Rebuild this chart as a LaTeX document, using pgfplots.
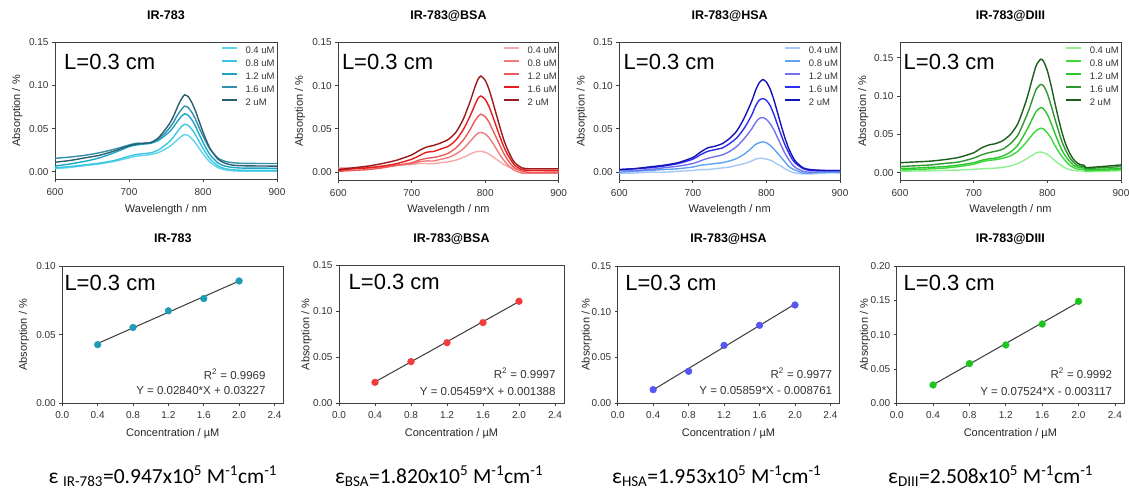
\documentclass[border=0pt]{standalone}
\usepackage{fontspec}
\setmainfont{Liberation Sans}
\newfontfamily\carlito{Carlito}
\usepackage{pgfplots}
\usepackage{pgfplotstable}
\pgfplotsset{compat=1.18}

\definecolor{ca}{HTML}{5ED3EA}
\definecolor{cb}{HTML}{3CC6E2}
\definecolor{cc}{HTML}{1AA7C6}
\definecolor{cd}{HTML}{3390A8}
\definecolor{ce}{HTML}{2B5F70}
\definecolor{ba}{HTML}{F7A8A8}
\definecolor{bb}{HTML}{F27A7A}
\definecolor{bc}{HTML}{EE5A5A}
\definecolor{bd}{HTML}{E81C1C}
\definecolor{be}{HTML}{9B1B1B}
\definecolor{ha}{HTML}{A3C8F7}
\definecolor{hb}{HTML}{5FA2F2}
\definecolor{hc}{HTML}{7373F0}
\definecolor{hd}{HTML}{2C2CF2}
\definecolor{he}{HTML}{1515B5}
\definecolor{da}{HTML}{8FF08F}
\definecolor{db}{HTML}{3CD93C}
\definecolor{dc}{HTML}{2DC42D}
\definecolor{dd}{HTML}{2E962E}
\definecolor{de}{HTML}{1D5E1D}
\definecolor{ma}{HTML}{1E9BB5}
\definecolor{mb}{HTML}{F23B3B}
\definecolor{mc}{HTML}{5656F0}
\definecolor{md}{HTML}{1CC51C}

\pgfplotstableread{
wl a b c d e
600 .0035 .0045 .0065 .0155 .011
620 .005 .006 .009 .017 .013
640 .007 .008 .012 .019 .016
660 .009 .010 .016 .022 .019
680 .012 .013 .022 .026 .024
700 .016 .018 .029 .031 .030
710 .018 .020 .031 .033 .032
720 .019 .021 .032 .033 .033
730 .020 .022 .033 .034 .034
740 .0223 .0253 .0364 .038 .0395
750 .0267 .0316 .0429 .046 .050
755 .0292 .0352 .0466 .051 .056
760 .0327 .0402 .0517 .057 .064
765 .0368 .0461 .0578 .065 .074
770 .0405 .0514 .0633 .071 .083
775 .043 .055 .067 .076 .089
780 .0419 .0537 .0654 .0743 .087
785 .0383 .0491 .0601 .0687 .080
790 .0332 .0427 .0525 .0607 .070
795 .0269 .0347 .0431 .0507 .058
800 .0209 .0272 .0342 .0414 .046
805 .0154 .0202 .026 .0328 .0354
810 .0107 .0143 .0191 .0255 .0263
820 .0048 .0069 .0103 .016 .0148
830 .0022 .0036 .0065 .012 .0098
840 .0011 .0023 .005 .0105 .0077
850 .0007 .0018 .0043 .0098 .007
870 .0006 .0016 .0042 .0096 .0067
900 .0005 .0015 .004 .0095 .0065
}\irtab

\pgfplotstableread{
wl a b c d e
600 .005 .004 .001 .002 .003
620 .005 .004 .002 .004 .005
640 .006 .005 .003 .005 .007
660 .007 .006 .005 .007 .010
680 .008 .008 .008 .010 .014
700 .009 .010 .011 .015 .020
710 .010 .012 .014 .019 .025
720 .010 .013 .016 .023 .029
730 .010 .013 .017 .024 .031
740 .011 .015 .019 .027 .034
750 .012 .017 .022 .030 .038
760 .014 .021 .028 .037 .046
770 .017 .027 .037 .049 .061
780 .021 .036 .050 .066 .083
785 .023 .041 .058 .076 .096
790 .024 .045 .064 .085 .107
794 .024 .046 .067 .088 .111
800 .023 .044 .064 .084 .106
805 .021 .040 .058 .076 .096
810 .018 .034 .049 .065 .082
815 .015 .027 .040 .053 .067
820 .012 .020 .031 .041 .052
825 .009 .014 .022 .030 .038
830 .007 .009 .015 .021 .027
835 .005 .005 .009 .014 .018
840 .004 .002 .005 .008 .011
850 .003 -.001 .001 .003 .005
860 .003 -.001 .000 .002 .004
880 .003 -.001 .000 .002 .004
900 .003 -.001 .000 .002 .004
}\bsatab

\pgfplotstableread{
wl a b c d e
600 -.001 .000 .002 .003 .003
620 -.001 .001 .002 .004 .004
640 .000 .002 .003 .005 .006
660 .000 .003 .005 .007 .008
680 .001 .004 .007 .010 .011
700 .002 .006 .010 .015 .017
710 .003 .008 .013 .020 .023
720 .003 .009 .016 .024 .028
730 .004 .010 .018 .026 .030
740 .005 .011 .020 .028 .033
750 .006 .013 .024 .033 .039
760 .008 .016 .030 .040 .048
770 .010 .021 .039 .051 .063
780 .013 .028 .050 .066 .082
785 .015 .032 .057 .076 .094
790 .016 .034 .062 .083 .103
795 .016 .035 .063 .085 .107
800 .015 .034 .061 .083 .104
805 .014 .031 .056 .077 .096
810 .012 .027 .049 .067 .084
815 .009 .022 .040 .055 .069
820 .007 .017 .031 .043 .054
825 .004 .012 .022 .032 .040
830 .002 .007 .015 .023 .028
835 .000 .004 .009 .015 .019
840 -.001 .002 .005 .010 .012
850 -.002 -.001 .001 .004 .005
860 -.002 -.001 .000 .002 .003
880 -.001 .000 .001 .002 .002
900 -.001 .000 .001 .002 .002
}\hsatab

\pgfplotstableread{
wl a b c d e
600 .002 .0035 .0055 .008 .013
620 .0022 .004 .006 .009 .014
640 .0025 .005 .007 .010 .015
660 .003 .006 .008 .012 .017
680 .0035 .008 .010 .014 .020
700 .0045 .011 .013 .019 .026
710 .005 .014 .016 .023 .032
720 .0056 .016 .018 .026 .036
730 .006 .017 .019 .028 .038
740 .007 .019 .022 .031 .042
750 .009 .022 .027 .038 .050
760 .012 .028 .036 .049 .064
770 .017 .038 .052 .070 .090
775 .020 .044 .061 .082 .106
780 .023 .050 .071 .096 .124
785 .026 .055 .080 .109 .140
791 .027 .058 .085 .115 .148
795 .026 .057 .083 .113 .145
800 .024 .052 .076 .103 .133
805 .020 .045 .065 .088 .114
810 .016 .036 .052 .071 .092
815 .012 .028 .040 .055 .071
820 .009 .021 .029 .040 .052
825 .006 .015 .021 .029 .037
830 .004 .010 .015 .020 .026
835 .003 .007 .010 .014 .018
840 .0025 .005 .0075 .010 .013
845 .0022 .0045 .0065 .0085 .0105
850 .002 .004 .006 .0078 .0095
852 .0012 .0025 .004 .0055 .0068
860 .0014 .0028 .004 .0058 .007
880 .0020 .0033 .0048 .0068 .0085
900 .0026 .004 .0056 .0080 .0102
}\diiitab

\tikzset{
  Lnode/.style={anchor=west, inner sep=0pt, font=\fontsize{22}{24}\selectfont, text=black},
  eqn/.style={anchor=base east, inner sep=0pt, font=\fontsize{11.5}{13}\selectfont, text=black!80},
}

\pgfplotsset{
  myaxis/.style={
    scale only axis, anchor=south west,
    axis line style={draw=black!75, line width=0.8pt},
    every tick/.style={draw=black!75, line width=0.8pt},
    tick align=outside, major tick length=3pt,
    xtick pos=bottom, ytick pos=left,
    ticklabel style={font=\fontsize{10}{12}\selectfont, text=black!80},
    label style={font=\fontsize{11}{13}\selectfont, text=black!85},
    title style={font=\bfseries\fontsize{12.5}{14}\selectfont, at={(axis description cs:0.5,1)}, anchor=base, yshift=17pt},
    xlabel style={at={(axis description cs:0.5,0)}, anchor=base, yshift=-33pt},
    /pgf/number format/assume math mode=true,
  },
  spec/.style={
    myaxis,
    xmin=600, xmax=900, xtick={600,700,800,900}, xticklabels={600,700,800,900},
    xticklabel style={yshift=-2.5pt},
    xlabel={Wavelength / nm}, ylabel={Absorption / \%},
    ylabel style={at={(axis description cs:-0.17,0.5)}, anchor=center},
    legend style={draw=none, fill=none, at={(axis description cs:0.748,1)}, anchor=north west, yshift=-3.6pt,
      font=\fontsize{9.5}{11}\selectfont, inner sep=0pt, row sep=3.5pt,
      nodes={inner sep=0.5pt, text height=7pt, text depth=1.5pt, text=black!80},
      /tikz/every odd column/.append style={column sep=7pt}},
    legend cell align=left,
    legend image code/.code={\draw[##1] (0pt,3.2pt) -- (15pt,3.2pt);},
    legend image post style={line width=1.8pt, opacity=1},
  },
  conc/.style={
    myaxis,
    xmin=0, xmax=2.5, xtick={0,0.4,0.8,1.2,1.6,2.0,2.4},
    xticklabels={0.0,0.4,0.8,1.2,1.6,2.0,2.4},
    xticklabel style={yshift=-1.5pt},
    xlabel={Concentration / µM}, ylabel={Absorption / \%},
    ymin=0,
  },
  sline/.style={line width=1.4pt, smooth, tension=0.4, no marks},
  rline/.style={black!75, line width=1.05pt},
}

\begin{document}
\begin{tikzpicture}
\useasboundingbox (0,0) rectangle (1129pt,494pt);

% ---------- top row ----------
\begin{axis}[spec, at={(55pt,314.5pt)}, width=222pt, height=137.2pt,
  ymin=-0.009, ymax=0.15, ytick={0,0.05,0.10,0.15}, yticklabels={0.00,0.05,0.10,0.15},
  title={IR-783}]
\addplot[ca, sline] table[x=wl,y=a]{\irtab}; \addlegendentry{0.4 uM}
\addplot[cb, sline] table[x=wl,y=b]{\irtab}; \addlegendentry{0.8 uM}
\addplot[cc, sline] table[x=wl,y=c]{\irtab}; \addlegendentry{1.2 uM}
\addplot[cd, sline] table[x=wl,y=d]{\irtab}; \addlegendentry{1.6 uM}
\addplot[ce, sline] table[x=wl,y=e]{\irtab}; \addlegendentry{2 uM}
\node[Lnode, xshift=9pt, yshift=-20pt] at (rel axis cs:0,1) {L=0.3 cm};
\end{axis}

\begin{axis}[spec, at={(338.3pt,314pt)}, width=220.4pt, height=137.7pt,
  ymin=-0.009, ymax=0.15, ytick={0,0.05,0.10,0.15}, yticklabels={0.00,0.05,0.10,0.15},
  ylabel style={at={(axis description cs:-0.174,0.5)}},
  title={IR-783@BSA}]
\addplot[ba, sline] table[x=wl,y=a]{\bsatab}; \addlegendentry{0.4 uM}
\addplot[bb, sline] table[x=wl,y=b]{\bsatab}; \addlegendentry{0.8 uM}
\addplot[bc, sline] table[x=wl,y=c]{\bsatab}; \addlegendentry{1.2 uM}
\addplot[bd, sline] table[x=wl,y=d]{\bsatab}; \addlegendentry{1.6 uM}
\addplot[be, sline] table[x=wl,y=e]{\bsatab}; \addlegendentry{2 uM}
\node[Lnode, xshift=3.5pt, yshift=-19.4pt] at (rel axis cs:0,1) {L=0.3 cm};
\end{axis}

\begin{axis}[spec, at={(619.3pt,314pt)}, width=220.7pt, height=137.7pt,
  ymin=-0.009, ymax=0.15, ytick={0,0.05,0.10,0.15}, yticklabels={0.00,0.05,0.10,0.15},
  title={IR-783@HSA}]
\addplot[ha, sline] table[x=wl,y=a]{\hsatab}; \addlegendentry{0.4 uM}
\addplot[hb, sline] table[x=wl,y=b]{\hsatab}; \addlegendentry{0.8 uM}
\addplot[hc, sline] table[x=wl,y=c]{\hsatab}; \addlegendentry{1.2 uM}
\addplot[hd, sline] table[x=wl,y=d]{\hsatab}; \addlegendentry{1.6 uM}
\addplot[he, sline] table[x=wl,y=e]{\hsatab}; \addlegendentry{2 uM}
\node[Lnode, xshift=4.2pt, yshift=-19.2pt] at (rel axis cs:0,1) {L=0.3 cm};
\end{axis}

\begin{axis}[spec, at={(900pt,314pt)}, width=221pt, height=137.7pt,
  ymin=-0.0095, ymax=0.17, ytick={0,0.05,0.10,0.15}, yticklabels={0.00,0.05,0.10,0.15},
  ylabel style={at={(axis description cs:-0.166,0.5)}},
  title={IR-783@DIII}]
\addplot[da, sline] table[x=wl,y=a]{\diiitab}; \addlegendentry{0.4 uM}
\addplot[db, sline] table[x=wl,y=b]{\diiitab}; \addlegendentry{0.8 uM}
\addplot[dc, sline] table[x=wl,y=c]{\diiitab}; \addlegendentry{1.2 uM}
\addplot[dd, sline] table[x=wl,y=d]{\diiitab}; \addlegendentry{1.6 uM}
\addplot[de, sline] table[x=wl,y=e]{\diiitab}; \addlegendentry{2 uM}
\node[Lnode, xshift=3.5pt, yshift=-19.4pt] at (rel axis cs:0,1) {L=0.3 cm};
\end{axis}

% ---------- bottom row ----------
\begin{axis}[conc, at={(62.3pt,90.5pt)}, width=221pt, height=137.5pt,
  ymax=0.10, ytick={0,0.05,0.10}, yticklabels={0.00,0.05,0.10},
  ylabel style={at={(axis description cs:-0.173,0.5)}, anchor=center},
  title={IR-783}]
\addplot[rline] coordinates {(0.4,0.04363) (2.0,0.08907)};
\addplot[only marks, mark=*, mark size=3.4pt, mark options={fill=ma, draw=ma}] coordinates {(0.4,0.0428) (0.8,0.0553) (1.2,0.0674) (1.6,0.0763) (2.0,0.0891)};
\node[Lnode, xshift=2pt, yshift=-17.3pt] at (rel axis cs:0,1) {L=0.3 cm};
\node[eqn, xshift=-17.6pt, yshift=24.2pt] at (rel axis cs:1,0) {R\textsuperscript{2} = 0.9969};
\node[eqn, xshift=-17.6pt, yshift=8.6pt] at (rel axis cs:1,0) {Y = 0.02840*X + 0.03227};
\end{axis}

\begin{axis}[conc, at={(339pt,90.7pt)}, width=225pt, height=138pt,
  ymax=0.15, ytick={0,0.05,0.10,0.15}, yticklabels={0.00,0.05,0.10,0.15},
  ylabel style={at={(axis description cs:-0.144,0.5)}, anchor=center},
  title={IR-783@BSA}]
\addplot[rline] coordinates {(0.4,0.02322) (2.0,0.11057)};
\addplot[only marks, mark=*, mark size=3.4pt, mark options={fill=mb, draw=mb}] coordinates {(0.4,0.0228) (0.8,0.0453) (1.2,0.0659) (1.6,0.0877) (2.0,0.1109)};
\node[Lnode, xshift=9.5pt, yshift=-16.4pt] at (rel axis cs:0,1) {L=0.3 cm};
\node[eqn, xshift=-8.3pt, yshift=25.2pt] at (rel axis cs:1,0) {R\textsuperscript{2} = 0.9997};
\node[eqn, xshift=-8.3pt, yshift=7.5pt] at (rel axis cs:1,0) {Y = 0.05459*X + 0.001388};
\end{axis}

\begin{axis}[conc, at={(617.7pt,90.7pt)}, width=221.6pt, height=137.3pt,
  ymax=0.15, ytick={0,0.05,0.10,0.15}, yticklabels={0.00,0.05,0.10,0.15},
  ylabel style={at={(axis description cs:-0.14,0.5)}, anchor=center},
  title={IR-783@HSA}]
\addplot[rline] coordinates {(0.4,0.01467) (2.0,0.10842)};
\addplot[only marks, mark=*, mark size=3.4pt, mark options={fill=mc, draw=mc}] coordinates {(0.4,0.0149) (0.8,0.0349) (1.2,0.0633) (1.6,0.0852) (2.0,0.1074)};
\node[Lnode, xshift=7.5pt, yshift=-17.3pt] at (rel axis cs:0,1) {L=0.3 cm};
\node[eqn, xshift=-7pt, yshift=25.2pt] at (rel axis cs:1,0) {R\textsuperscript{2} = 0.9977};
\node[eqn, xshift=-7pt, yshift=8.5pt] at (rel axis cs:1,0) {Y = 0.05859*X - 0.008761};
\end{axis}

\begin{axis}[conc, at={(896.7pt,90.7pt)}, width=227.3pt, height=137.3pt,
  ymax=0.20, ytick={0,0.05,0.10,0.15,0.20}, yticklabels={0.00,0.05,0.10,0.15,0.20},
  ylabel style={at={(axis description cs:-0.139,0.5)}, anchor=center},
  title={IR-783@DIII}]
\addplot[rline] coordinates {(0.4,0.02698) (2.0,0.14736)};
\addplot[only marks, mark=*, mark size=3.4pt, mark options={fill=md, draw=md}] coordinates {(0.4,0.0267) (0.8,0.0578) (1.2,0.0850) (1.6,0.1155) (2.0,0.1485)};
\node[Lnode, xshift=6.8pt, yshift=-16.7pt] at (rel axis cs:0,1) {L=0.3 cm};
\node[eqn, xshift=-11.7pt, yshift=25.2pt] at (rel axis cs:1,0) {R\textsuperscript{2} = 0.9992};
\node[eqn, xshift=-11.7pt, yshift=7.8pt] at (rel axis cs:1,0) {Y = 0.07524*X - 0.003117};
\end{axis}

% ---------- extinction coefficients ----------
\begin{scope}[every node/.style={anchor=base west, inner sep=0pt, font=\carlito\fontsize{21.5}{24}\selectfont, text=black}]
\node at (48.3pt,10.7pt) {ε \textsubscript{IR-783}=0.947x10\textsuperscript{5} M\textsuperscript{-1}cm\textsuperscript{-1}};
\node at (335pt,10.7pt) {ε\textsubscript{BSA}=1.820x10\textsuperscript{5} M\textsuperscript{-1}cm\textsuperscript{-1}};
\node at (612pt,10.7pt) {ε\textsubscript{HSA}=1.953x10\textsuperscript{5} M\textsuperscript{-1}cm\textsuperscript{-1}};
\node at (888pt,10.7pt) {ε\textsubscript{DIII}=2.508x10\textsuperscript{5} M\textsuperscript{-1}cm\textsuperscript{-1}};
\end{scope}
\end{tikzpicture}
\end{document}
